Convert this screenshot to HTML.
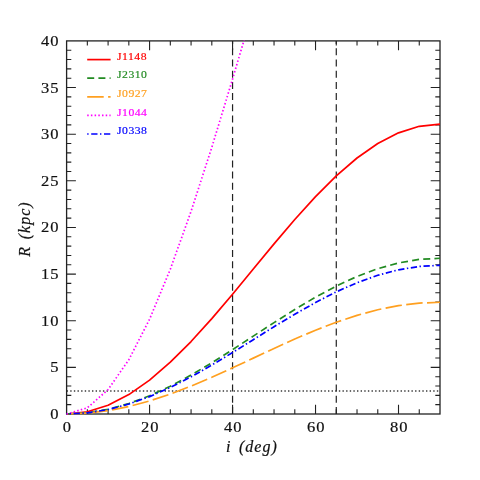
<!DOCTYPE html>
<html><head><meta charset="utf-8"><title>plot</title>
<style>
html,body{margin:0;padding:0;background:#fff;}
body{width:480px;height:480px;overflow:hidden;}
#w{width:480px;height:480px;will-change:transform;background:#fff;}
svg{display:block;}
text{font-family:"Liberation Serif",serif;}
.tk{font-size:15.6px;fill:#111;stroke:#111;stroke-width:0.2px;letter-spacing:1.0px;}
.lg{font-size:9.7px;letter-spacing:0.4px;stroke-width:0.16px;stroke-linejoin:round;}
.ax{font-size:16px;font-style:italic;fill:#111;stroke:#111;stroke-width:0.2px;letter-spacing:1px;}
</style></head><body><div id="w">
<svg width="480" height="480" viewBox="0 0 480 480">
<rect width="480" height="480" fill="#fff"/>
<defs><clipPath id="cp"><rect x="66.00" y="40.30" width="374.60" height="374.50"/></clipPath></defs>

<line x1="66.60" y1="390.93" x2="440.00" y2="390.93" stroke="#3a3a3a" stroke-width="1.4" stroke-dasharray="1.4 2.23"/>
<line x1="232.56" y1="414.00" x2="232.56" y2="40.90" stroke="#222" stroke-width="1.2" stroke-dasharray="7 4.21"/>
<line x1="336.28" y1="414.00" x2="336.28" y2="40.90" stroke="#222" stroke-width="1.2" stroke-dasharray="7 4.21"/>
<path d="M87.34 414.00v-4.70M87.34 40.90v4.70M108.09 414.00v-4.70M108.09 40.90v4.70M128.83 414.00v-4.70M128.83 40.90v4.70M149.58 414.00v-9.30M149.58 40.90v9.30M170.32 414.00v-4.70M170.32 40.90v4.70M191.07 414.00v-4.70M191.07 40.90v4.70M211.81 414.00v-4.70M211.81 40.90v4.70M232.56 414.00v-9.30M232.56 40.90v9.30M253.30 414.00v-4.70M253.30 40.90v4.70M274.04 414.00v-4.70M274.04 40.90v4.70M294.79 414.00v-4.70M294.79 40.90v4.70M315.53 414.00v-9.30M315.53 40.90v9.30M336.28 414.00v-4.70M336.28 40.90v4.70M357.02 414.00v-4.70M357.02 40.90v4.70M377.77 414.00v-4.70M377.77 40.90v4.70M398.51 414.00v-9.30M398.51 40.90v9.30M419.26 414.00v-4.70M419.26 40.90v4.70M66.60 404.67h4.70M440.00 404.67h-4.70M66.60 395.35h4.70M440.00 395.35h-4.70M66.60 386.02h4.70M440.00 386.02h-4.70M66.60 376.69h4.70M440.00 376.69h-4.70M66.60 367.36h9.30M440.00 367.36h-9.30M66.60 358.03h4.70M440.00 358.03h-4.70M66.60 348.71h4.70M440.00 348.71h-4.70M66.60 339.38h4.70M440.00 339.38h-4.70M66.60 330.05h4.70M440.00 330.05h-4.70M66.60 320.73h9.30M440.00 320.73h-9.30M66.60 311.40h4.70M440.00 311.40h-4.70M66.60 302.07h4.70M440.00 302.07h-4.70M66.60 292.74h4.70M440.00 292.74h-4.70M66.60 283.41h4.70M440.00 283.41h-4.70M66.60 274.09h9.30M440.00 274.09h-9.30M66.60 264.76h4.70M440.00 264.76h-4.70M66.60 255.43h4.70M440.00 255.43h-4.70M66.60 246.10h4.70M440.00 246.10h-4.70M66.60 236.78h4.70M440.00 236.78h-4.70M66.60 227.45h9.30M440.00 227.45h-9.30M66.60 218.12h4.70M440.00 218.12h-4.70M66.60 208.79h4.70M440.00 208.79h-4.70M66.60 199.47h4.70M440.00 199.47h-4.70M66.60 190.14h4.70M440.00 190.14h-4.70M66.60 180.81h9.30M440.00 180.81h-9.30M66.60 171.48h4.70M440.00 171.48h-4.70M66.60 162.16h4.70M440.00 162.16h-4.70M66.60 152.83h4.70M440.00 152.83h-4.70M66.60 143.50h4.70M440.00 143.50h-4.70M66.60 134.18h9.30M440.00 134.18h-9.30M66.60 124.85h4.70M440.00 124.85h-4.70M66.60 115.52h4.70M440.00 115.52h-4.70M66.60 106.19h4.70M440.00 106.19h-4.70M66.60 96.86h4.70M440.00 96.86h-4.70M66.60 87.54h9.30M440.00 87.54h-9.30M66.60 78.21h4.70M440.00 78.21h-4.70M66.60 68.88h4.70M440.00 68.88h-4.70M66.60 59.55h4.70M440.00 59.55h-4.70M66.60 50.23h4.70M440.00 50.23h-4.70" stroke="#222" stroke-width="1.1" fill="none"/>
<rect x="66.60" y="40.90" width="373.40" height="373.10" fill="none" stroke="#222" stroke-width="1.3"/>
<g clip-path="url(#cp)" fill="none" stroke-linejoin="round">
<polyline points="66.60,414.00 87.34,411.80 108.09,405.26 128.83,394.58 149.58,380.09 170.32,362.22 191.07,341.53 211.81,318.63 232.56,294.22 253.30,269.05 274.04,243.88 294.79,219.48 315.53,196.58 336.28,175.88 357.02,158.01 377.77,143.52 398.51,132.84 419.26,126.30 440.00,124.10" stroke="#ff0000" stroke-width="1.7"/>
<polyline points="66.60,414.00 87.34,412.82 108.09,409.30 128.83,403.57 149.58,395.78 170.32,386.18 191.07,375.06 211.81,362.75 232.56,349.64 253.30,336.12 274.04,322.59 294.79,309.48 315.53,297.17 336.28,286.05 357.02,276.45 377.77,268.67 398.51,262.93 419.26,259.41 440.00,258.23" stroke="#228b22" stroke-width="1.7" stroke-dasharray="7 4.21" stroke-dashoffset="-1.5"/>
<polyline points="66.60,414.00 87.34,413.15 108.09,410.63 128.83,406.51 149.58,400.93 170.32,394.04 191.07,386.06 211.81,377.24 232.56,367.83 253.30,358.13 274.04,348.43 294.79,339.02 315.53,330.19 336.28,322.21 357.02,315.33 377.77,309.74 398.51,305.63 419.26,303.11 440.00,302.26" stroke="#ffa020" stroke-width="1.7" stroke-dasharray="16.5 4.4" stroke-dashoffset="-4"/>
<polyline points="66.60,414.00 87.34,407.84 108.09,389.56 128.83,359.70 149.58,319.18 170.32,269.23 191.07,211.36 211.81,147.33 232.56,79.10 253.30,8.72 274.04,-61.66 294.79,-129.89 315.53,-193.92 336.28,-251.79 357.02,-301.74 377.77,-342.26 398.51,-372.12 419.26,-390.40 440.00,-396.56" stroke="#ff00ff" stroke-width="1.7" stroke-dasharray="1.5 2.2" stroke-dashoffset="0"/>
<polyline points="66.60,414.00 87.34,412.87 108.09,409.52 128.83,404.04 149.58,396.61 170.32,387.44 191.07,376.83 211.81,365.09 232.56,352.57 253.30,339.66 274.04,326.75 294.79,314.23 315.53,302.49 336.28,291.87 357.02,282.71 377.77,275.28 398.51,269.80 419.26,266.45 440.00,265.32" stroke="#0000ff" stroke-width="1.7" stroke-dasharray="1.4 2.6 6.3 2.5" stroke-dashoffset="-3"/>
</g>
<text class="tk" transform="translate(67.30,432.3) scale(1.06,1)" text-anchor="middle">0</text>
<text class="tk" transform="translate(150.28,432.3) scale(1.06,1)" text-anchor="middle">20</text>
<text class="tk" transform="translate(233.26,432.3) scale(1.06,1)" text-anchor="middle">40</text>
<text class="tk" transform="translate(316.23,432.3) scale(1.06,1)" text-anchor="middle">60</text>
<text class="tk" transform="translate(399.21,432.3) scale(1.06,1)" text-anchor="middle">80</text>
<text class="tk" transform="translate(59.6,419.00) scale(1.06,1)" text-anchor="end">0</text>
<text class="tk" transform="translate(59.6,372.36) scale(1.06,1)" text-anchor="end">5</text>
<text class="tk" transform="translate(59.6,325.73) scale(1.06,1)" text-anchor="end">10</text>
<text class="tk" transform="translate(59.6,279.09) scale(1.06,1)" text-anchor="end">15</text>
<text class="tk" transform="translate(59.6,232.45) scale(1.06,1)" text-anchor="end">20</text>
<text class="tk" transform="translate(59.6,185.81) scale(1.06,1)" text-anchor="end">25</text>
<text class="tk" transform="translate(59.6,139.18) scale(1.06,1)" text-anchor="end">30</text>
<text class="tk" transform="translate(59.6,92.54) scale(1.06,1)" text-anchor="end">35</text>
<text class="tk" transform="translate(59.6,45.90) scale(1.06,1)" text-anchor="end">40</text>
<text class="ax" transform="translate(0,451.6)"><tspan x="226">i</tspan><tspan x="234"> (deg)</tspan></text>
<text class="ax" transform="translate(29.8,256.8) rotate(-90)"><tspan x="0">R</tspan><tspan x="12.5"> (kpc)</tspan></text>
<line x1="87.2" y1="59.60" x2="110.6" y2="59.60" stroke="#ff0000" stroke-width="1.7"/>
<text class="lg" transform="translate(117,59.85) scale(1.21,1)" fill="#ff0000" stroke="#ff0000">J1148</text>
<line x1="87.2" y1="78.20" x2="110.6" y2="78.20" stroke="#228b22" stroke-width="1.7" stroke-dasharray="7 4.21"/>
<text class="lg" transform="translate(117,78.45) scale(1.21,1)" fill="#228b22" stroke="#228b22">J2310</text>
<line x1="87.2" y1="96.80" x2="110.6" y2="96.80" stroke="#ffa020" stroke-width="1.7" stroke-dasharray="16.5 4.4"/>
<text class="lg" transform="translate(117,97.05) scale(1.21,1)" fill="#ffa020" stroke="#ffa020">J0927</text>
<line x1="87.2" y1="115.30" x2="110.6" y2="115.30" stroke="#ff00ff" stroke-width="1.7" stroke-dasharray="1.5 2.2"/>
<text class="lg" transform="translate(117,115.55) scale(1.21,1)" fill="#ff00ff" stroke="#ff00ff">J1044</text>
<line x1="87.2" y1="134.00" x2="110.6" y2="134.00" stroke="#0000ff" stroke-width="1.7" stroke-dasharray="1.4 2.6 6.3 2.5"/>
<text class="lg" transform="translate(117,134.25) scale(1.21,1)" fill="#0000ff" stroke="#0000ff">J0338</text>
</svg></div></body></html>
